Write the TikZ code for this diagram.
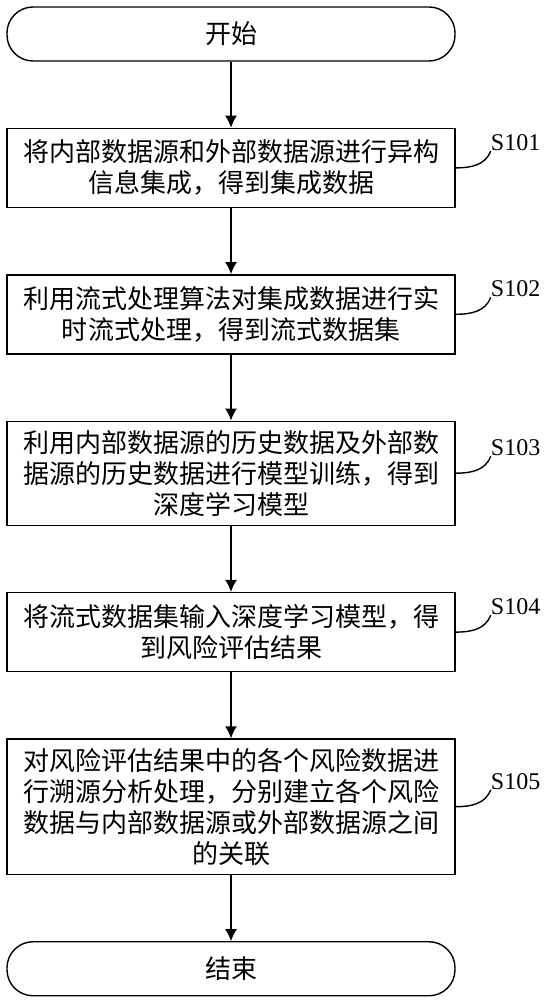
\documentclass[tikz,border=0pt]{standalone}
\usepackage{fontspec}
\usetikzlibrary{positioning, arrows.meta}
\newfontfamily\cjkfont{Noto Sans CJK SC}
\newfontfamily\stepfont{Liberation Serif}

\begin{document}
\begin{tikzpicture}[
    node distance=66pt,
    % Node styles
    terminal/.style={
        rectangle,
        draw=black,
        rounded corners=26pt,
        minimum width=448pt,
        minimum height=54pt,
        line width=1.4pt,
        font=\cjkfont\fontsize{26}{31}\selectfont
    },
    stepbox/.style={
        rectangle,
        draw=black,
        minimum width=448pt,
        minimum height=79pt,
        inner ysep=9pt,
        align=center,
        line width=1.4pt,
        font=\cjkfont\fontsize{26}{31}\selectfont
    },
    steplabel/.style={inner sep=0pt, font=\stepfont\fontsize{24}{28}\selectfont},
    % Arrow styles
    arrow/.style={->, >={Latex[length=12pt,width=12pt]}, line width=1.4pt},
    tagline/.style={line width=1.4pt, out=0, in=-110}
]
\useasboundingbox (0,0) rectangle (549pt,-1000pt);

% -- Start --
\node[terminal] (start) at (231pt,-34pt) {开始};

% -- Steps --
\node[stepbox, below=of start] (s101) {将内部数据源和外部数据源进行异构\\信息集成，得到集成数据};
\node[stepbox, below=of s101] (s102) {利用流式处理算法对集成数据进行实\\时流式处理，得到流式数据集};
\node[stepbox, below=of s102] (s103) {利用内部数据源的历史数据及外部数\\据源的历史数据进行模型训练，得到\\深度学习模型};
\node[stepbox, below=of s103] (s104) {将流式数据集输入深度学习模型，得\\到风险评估结果};
\node[stepbox, below=of s104] (s105) {对风险评估结果中的各个风险数据进\\行溯源分析处理，分别建立各个风险\\数据与内部数据源或外部数据源之间\\的关联};

% -- End --
\node[terminal, below=of s105] (end) {结束};

% -- Step labels --
\node[steplabel, above right=17pt and 35pt of s101.east] (l101) {S101};
\node[steplabel, above right=17pt and 35pt of s102.east] (l102) {S102};
\node[steplabel, above right=17pt and 35pt of s103.east] (l103) {S103};
\node[steplabel, above right=17pt and 35pt of s104.east] (l104) {S104};
\node[steplabel, above right=17pt and 35pt of s105.east] (l105) {S105};

% -- Flow --
\draw[arrow] (start) -- (s101);
\draw[arrow] (s101) -- (s102);
\draw[arrow] (s102) -- (s103);
\draw[arrow] (s103) -- (s104);
\draw[arrow] (s104) -- (s105);
\draw[arrow] (s105) -- (end);

% -- Label leaders --
\draw[tagline] (s101.east) to (l101.south west);
\draw[tagline] (s102.east) to (l102.south west);
\draw[tagline] (s103.east) to (l103.south west);
\draw[tagline] (s104.east) to (l104.south west);
\draw[tagline] (s105.east) to (l105.south west);

\end{tikzpicture}
\end{document}
